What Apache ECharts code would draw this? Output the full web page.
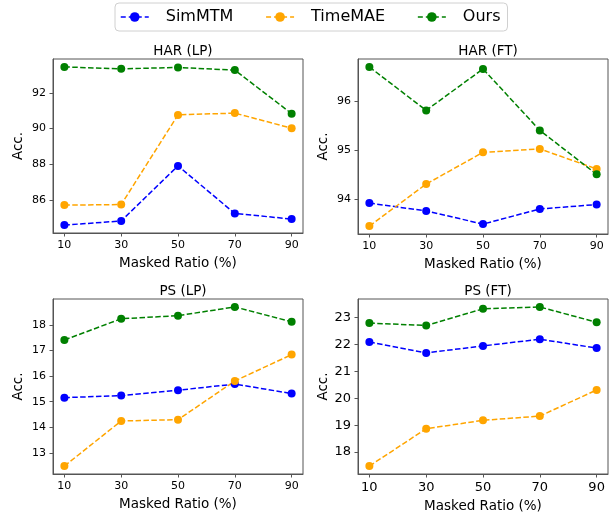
<!DOCTYPE html>
<html>
<head>
<meta charset="utf-8">
<script src="https://cdn.jsdelivr.net/npm/echarts@6/dist/echarts.min.js"></script>
<style>
html,body{margin:0;padding:0;background:#fff;}
#main{width:613px;height:514px;}
</style>
</head>
<body>
<div id="main"></div>
<script>
// masked ratios on the x axis
var ratios = [10, 30, 50, 70, 90];
var methods = ['SimMTM', 'TimeMAE', 'Ours'];
var colors = ['#0000ff', '#ffa500', '#008000'];
var panelTitles = ['HAR (LP)', 'HAR (FT)', 'PS (LP)', 'PS (FT)'];

// HAR linear probing
var harLpSimMTM = [84.58, 84.81, 87.9, 85.23, 84.92];
var harLpTimeMAE = [85.70, 85.73, 90.76, 90.86, 90.01];
var harLpOurs = [93.45, 93.34, 93.42, 93.27, 90.83];
// HAR fine-tuning
var harFtSimMTM = [93.92, 93.76, 93.49, 93.80, 93.89];
var harFtTimeMAE = [93.45, 94.31, 94.96, 95.03, 94.62];
var harFtOurs = [96.71, 95.82, 96.67, 95.41, 94.51];
// PS linear probing
var psLpSimMTM = [15.16, 15.24, 15.45, 15.69, 15.32];
var psLpTimeMAE = [12.49, 14.25, 14.30, 15.81, 16.84];
var psLpOurs = [17.41, 18.24, 18.36, 18.70, 18.12];
// PS fine-tuning
var psFtSimMTM = [22.10, 21.69, 21.95, 22.20, 21.87];
var psFtTimeMAE = [17.48, 18.87, 19.18, 19.34, 20.31];
var psFtOurs = [22.80, 22.71, 23.33, 23.40, 22.83];

// y tick labels per panel
var harLpTicks = [86, 88, 90, 92];
var harFtTicks = [94, 95, 96];
var psLpTicks = [13, 14, 15, 16, 17, 18];
var psFtTicks = [18, 19, 20, 21, 22, 23];

var panelData = [
	[harLpSimMTM, harLpTimeMAE, harLpOurs],
	[harFtSimMTM, harFtTimeMAE, harFtOurs],
	[psLpSimMTM, psLpTimeMAE, psLpOurs],
	[psFtSimMTM, psFtTimeMAE, psFtOurs]
];
var panelTicks = [harLpTicks, harFtTicks, psLpTicks, psFtTicks];

// layout of the four panels
var grids = [
	{left: 53, top: 59, width: 250, height: 174},
	{left: 358, top: 59, width: 250, height: 175},
	{left: 53, top: 299, width: 250, height: 175},
	{left: 358, top: 299, width: 250, height: 175}
];
var tickFont = [11, 11, 11, 13];
var font = 'DejaVu Sans';
var spine = '#555';
var dash = [5.5, 2.4];

// matplotlib style 5% margin
function padRange(arrs){
	var lo = Infinity, hi = -Infinity;
	arrs.forEach(function(a){
		a.forEach(function(v){ lo = Math.min(lo, v); hi = Math.max(hi, v); });
	});
	var p = (hi - lo) * 0.05;
	return [lo - p, hi + p];
}

var option = {
	backgroundColor: '#fff',
	animation: false,
	title: [],
	legend: {
		data: methods,
		left: 115,
		top: 3,
		padding: [6, 7, 6, 5],
		itemWidth: 28,
		itemHeight: 12,
		itemGap: 32,
		borderColor: '#d0d0d0',
		borderWidth: 1,
		borderRadius: 4,
		lineStyle: {type: [5, 3], width: 1.5},
		textStyle: {fontFamily: font, fontSize: 16, color: '#000', padding: [0, 0, 0, 12]}
	},
	grid: [],
	xAxis: [],
	yAxis: [],
	series: []
};

for (var i = 0; i < 4; i++) {
	var g = grids[i];
	option.grid.push({
		left: g.left, top: g.top, width: g.width, height: g.height,
		show: true, borderColor: spine, borderWidth: 1, backgroundColor: 'transparent'
	});
	option.title.push({
		text: panelTitles[i],
		left: g.left + g.width / 2,
		top: g.top - 20,
		textAlign: 'center',
		textStyle: {fontFamily: font, fontSize: 13.5, fontWeight: 'normal', color: '#000'}
	});
	option.xAxis.push({
		type: 'value',
		gridIndex: i,
		min: 6,
		max: 94,
		name: 'Masked Ratio (%)',
		nameLocation: 'middle',
		nameGap: i == 3 ? 25 : 23,
		nameTextStyle: {fontFamily: font, fontSize: 13.5, color: '#000'},
		axisLine: {show: true, onZero: false, lineStyle: {color: spine, width: 1}},
		axisTick: {show: true, length: 3.5, customValues: ratios, lineStyle: {color: spine}},
		axisLabel: {customValues: ratios, margin: 7, fontFamily: font, fontSize: tickFont[i], color: '#000'},
		splitLine: {show: false}
	});
	var ext = padRange(panelData[i]);
	option.yAxis.push({
		type: 'value',
		gridIndex: i,
		min: ext[0],
		max: ext[1],
		name: 'Acc.',
		nameLocation: 'middle',
		nameRotate: 90,
		nameGap: 28,
		nameTextStyle: {fontFamily: font, fontSize: 13.5, color: '#000'},
		axisLine: {show: true, onZero: false, lineStyle: {color: spine, width: 1}},
		axisTick: {show: true, length: 3.5, customValues: panelTicks[i], lineStyle: {color: spine}},
		axisLabel: {customValues: panelTicks[i], margin: 7, fontFamily: font, fontSize: tickFont[i], color: '#000'},
		splitLine: {show: false}
	});
	for (var m = 0; m < 3; m++) {
		var vals = panelData[i][m];
		var pts = [];
		for (var k = 0; k < ratios.length; k++) pts.push([ratios[k], vals[k]]);
		option.series.push({
			name: methods[m],
			type: 'line',
			xAxisIndex: i,
			yAxisIndex: i,
			data: pts,
			symbol: 'circle',
			symbolSize: 8,
			itemStyle: {color: colors[m]},
			lineStyle: {color: colors[m], width: 1.5, type: dash}
		});
	}
}

var chart = echarts.init(document.getElementById('main'));
chart.setOption(option);
</script>
</body>
</html>
